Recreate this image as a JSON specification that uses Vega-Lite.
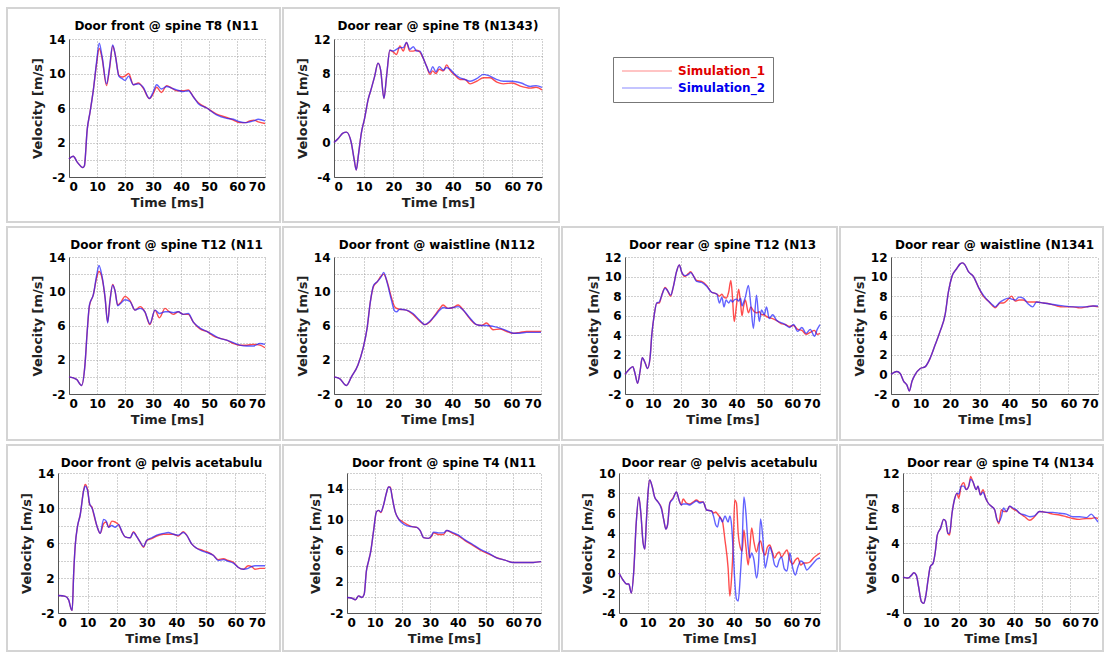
{
"$schema": "https://vega.github.io/schema/vega-lite/v6.json",
"background": "white",
"padding": {"left": 6, "top": 7, "right": 0, "bottom": 0},
"config": {
  "font": "DejaVu Sans",
  "view": {"stroke": "#d4d4d4", "strokeWidth": 2, "fill": "white"},
  "axis": {"labelFont": "DejaVu Sans", "labelFontSize": 12, "labelFontWeight": "bold", "labelColor": "#000", "titleFont": "DejaVu Sans", "titleFontSize": 13, "titleFontWeight": "bold", "titleColor": "#222", "domainColor": "#555", "gridColor": "#a0a0a0", "gridDash": [1, 2], "ticks": false, "labelPadding": 4, "titlePadding": 4, "labelOverlap": false},
  "title": {"font": "DejaVu Sans", "fontSize": 12, "fontWeight": "bold", "color": "#000"},
  "line": {"interpolate": "monotone", "strokeWidth": 1.4}
},
"datasets": {
"front_T8": [
{"t":0,"Simulation_1":0.1,"Simulation_2":0.1},{"t":1.5,"Simulation_1":0.4,"Simulation_2":0.4},{"t":3,"Simulation_1":-0.3,"Simulation_2":-0.3},{"t":5,"Simulation_1":-0.9,"Simulation_2":-0.9},{"t":5.5,"Simulation_1":-0.7,"Simulation_2":-0.7},{"t":6.5,"Simulation_1":3.5,"Simulation_2":3.5},{"t":7.5,"Simulation_1":5.5,"Simulation_2":5.5},{"t":8.7,"Simulation_1":8.1,"Simulation_2":8.1},{"t":9.8,"Simulation_1":11.0,"Simulation_2":11.2},{"t":10.8,"Simulation_1":12.9,"Simulation_2":13.5},{"t":11.8,"Simulation_1":11.8,"Simulation_2":12.0},{"t":13.4,"Simulation_1":8.6,"Simulation_2":8.8},{"t":14.5,"Simulation_1":10.6,"Simulation_2":10.8},{"t":15.6,"Simulation_1":13.2,"Simulation_2":13.3},{"t":16.5,"Simulation_1":12.2,"Simulation_2":12.2},{"t":17.8,"Simulation_1":9.8,"Simulation_2":9.7},{"t":19,"Simulation_1":9.6,"Simulation_2":9.4},{"t":20,"Simulation_1":9.7,"Simulation_2":9.2},{"t":21.3,"Simulation_1":10.0,"Simulation_2":9.7},{"t":23,"Simulation_1":8.7,"Simulation_2":8.7},{"t":24.8,"Simulation_1":8.9,"Simulation_2":8.8},{"t":26.5,"Simulation_1":8.3,"Simulation_2":8.4},{"t":28.7,"Simulation_1":7.1,"Simulation_2":7.1},{"t":30,"Simulation_1":7.6,"Simulation_2":7.8},{"t":31.3,"Simulation_1":8.4,"Simulation_2":8.7},{"t":33,"Simulation_1":7.8,"Simulation_2":8.2},{"t":34.9,"Simulation_1":8.6,"Simulation_2":8.5},{"t":36.7,"Simulation_1":8.3,"Simulation_2":8.3},{"t":38.5,"Simulation_1":8.0,"Simulation_2":8.1},{"t":40.8,"Simulation_1":8.0,"Simulation_2":7.9},{"t":42.6,"Simulation_1":8.1,"Simulation_2":8.0},{"t":44.4,"Simulation_1":7.3,"Simulation_2":7.3},{"t":46.2,"Simulation_1":6.6,"Simulation_2":6.5},{"t":49.2,"Simulation_1":6.0,"Simulation_2":6.0},{"t":52.7,"Simulation_1":5.3,"Simulation_2":5.2},{"t":56.3,"Simulation_1":4.9,"Simulation_2":4.8},{"t":58.7,"Simulation_1":4.6,"Simulation_2":4.7},{"t":61,"Simulation_1":4.3,"Simulation_2":4.4},{"t":63,"Simulation_1":4.3,"Simulation_2":4.3},{"t":64.6,"Simulation_1":4.5,"Simulation_2":4.4},{"t":66,"Simulation_1":4.6,"Simulation_2":4.5},{"t":67.6,"Simulation_1":4.4,"Simulation_2":4.7},{"t":70,"Simulation_1":4.2,"Simulation_2":4.5}
],
"rear_T8": [
{"t":0,"Simulation_1":0,"Simulation_2":0},{"t":1.5,"Simulation_1":0.5,"Simulation_2":0.5},{"t":3,"Simulation_1":1.1,"Simulation_2":1.1},{"t":4.2,"Simulation_1":1.2,"Simulation_2":1.2},{"t":5.8,"Simulation_1":0.0,"Simulation_2":0.0},{"t":6.8,"Simulation_1":-2.0,"Simulation_2":-2.0},{"t":7.5,"Simulation_1":-3.2,"Simulation_2":-3.2},{"t":8.2,"Simulation_1":-1.5,"Simulation_2":-1.5},{"t":9.2,"Simulation_1":1.1,"Simulation_2":1.1},{"t":10.3,"Simulation_1":2.8,"Simulation_2":2.8},{"t":11.5,"Simulation_1":5.0,"Simulation_2":5.0},{"t":12.6,"Simulation_1":6.3,"Simulation_2":6.3},{"t":13.7,"Simulation_1":7.7,"Simulation_2":7.7},{"t":14.8,"Simulation_1":9.2,"Simulation_2":9.2},{"t":15.7,"Simulation_1":8.4,"Simulation_2":8.4},{"t":16.8,"Simulation_1":5.1,"Simulation_2":5.1},{"t":17.7,"Simulation_1":7.7,"Simulation_2":7.7},{"t":18.8,"Simulation_1":10.7,"Simulation_2":10.7},{"t":19.9,"Simulation_1":10.5,"Simulation_2":10.6},{"t":21,"Simulation_1":10.2,"Simulation_2":10.8},{"t":22.2,"Simulation_1":11.2,"Simulation_2":11.0},{"t":23.3,"Simulation_1":10.6,"Simulation_2":11.0},{"t":24.4,"Simulation_1":11.6,"Simulation_2":11.6},{"t":25.5,"Simulation_1":10.6,"Simulation_2":10.8},{"t":26.7,"Simulation_1":10.6,"Simulation_2":11.1},{"t":27.8,"Simulation_1":10.7,"Simulation_2":10.6},{"t":28.9,"Simulation_1":10.5,"Simulation_2":10.6},{"t":30,"Simulation_1":9.8,"Simulation_2":9.8},{"t":31.2,"Simulation_1":8.8,"Simulation_2":8.8},{"t":32.3,"Simulation_1":7.9,"Simulation_2":8.1},{"t":33.2,"Simulation_1":8.3,"Simulation_2":8.8},{"t":34.3,"Simulation_1":8.0,"Simulation_2":8.2},{"t":35.4,"Simulation_1":8.5,"Simulation_2":8.8},{"t":36.8,"Simulation_1":8.3,"Simulation_2":8.4},{"t":37.9,"Simulation_1":9.0,"Simulation_2":8.7},{"t":39,"Simulation_1":8.4,"Simulation_2":8.5},{"t":40.7,"Simulation_1":7.8,"Simulation_2":7.9},{"t":42.4,"Simulation_1":7.3,"Simulation_2":7.5},{"t":44.1,"Simulation_1":7.3,"Simulation_2":7.3},{"t":45.8,"Simulation_1":6.8,"Simulation_2":7.1},{"t":48,"Simulation_1":7.1,"Simulation_2":7.4},{"t":50.3,"Simulation_1":7.5,"Simulation_2":7.9},{"t":52.5,"Simulation_1":7.5,"Simulation_2":7.7},{"t":54.8,"Simulation_1":7.0,"Simulation_2":7.3},{"t":57,"Simulation_1":6.8,"Simulation_2":7.1},{"t":60,"Simulation_1":6.9,"Simulation_2":7.1},{"t":63,"Simulation_1":6.5,"Simulation_2":6.9},{"t":66,"Simulation_1":6.3,"Simulation_2":6.5},{"t":68,"Simulation_1":6.4,"Simulation_2":6.6},{"t":70,"Simulation_1":6.1,"Simulation_2":6.4}
],
"front_T12": [
{"t":0,"Simulation_1":0.0,"Simulation_2":0.0},{"t":2.7,"Simulation_1":-0.3,"Simulation_2":-0.3},{"t":4.5,"Simulation_1":-1.0,"Simulation_2":-1.0},{"t":5.7,"Simulation_1":1.4,"Simulation_2":1.4},{"t":6.5,"Simulation_1":5.3,"Simulation_2":5.3},{"t":7.3,"Simulation_1":8.3,"Simulation_2":8.4},{"t":8.7,"Simulation_1":9.6,"Simulation_2":9.6},{"t":9.9,"Simulation_1":11.6,"Simulation_2":11.9},{"t":10.7,"Simulation_1":12.3,"Simulation_2":13.0},{"t":11.7,"Simulation_1":11.7,"Simulation_2":11.9},{"t":12.9,"Simulation_1":9.2,"Simulation_2":9.2},{"t":13.8,"Simulation_1":6.4,"Simulation_2":6.3},{"t":14.6,"Simulation_1":8.8,"Simulation_2":8.8},{"t":15.6,"Simulation_1":10.8,"Simulation_2":10.7},{"t":16.4,"Simulation_1":10.1,"Simulation_2":10.1},{"t":17.4,"Simulation_1":8.4,"Simulation_2":8.3},{"t":18.5,"Simulation_1":8.7,"Simulation_2":8.6},{"t":20,"Simulation_1":9.4,"Simulation_2":9.0},{"t":21.8,"Simulation_1":8.9,"Simulation_2":8.8},{"t":23.6,"Simulation_1":7.8,"Simulation_2":7.8},{"t":25.4,"Simulation_1":8.2,"Simulation_2":8.0},{"t":27.1,"Simulation_1":7.6,"Simulation_2":7.6},{"t":28.9,"Simulation_1":6.1,"Simulation_2":6.2},{"t":30.7,"Simulation_1":7.8,"Simulation_2":7.8},{"t":32.3,"Simulation_1":6.9,"Simulation_2":7.4},{"t":34.3,"Simulation_1":8.0,"Simulation_2":7.6},{"t":35.5,"Simulation_1":7.7,"Simulation_2":7.6},{"t":37.3,"Simulation_1":7.3,"Simulation_2":7.5},{"t":39,"Simulation_1":7.6,"Simulation_2":7.6},{"t":40.8,"Simulation_1":7.3,"Simulation_2":7.3},{"t":42.6,"Simulation_1":7.3,"Simulation_2":7.4},{"t":44.4,"Simulation_1":6.4,"Simulation_2":6.4},{"t":46.8,"Simulation_1":5.6,"Simulation_2":5.7},{"t":49.2,"Simulation_1":5.3,"Simulation_2":5.3},{"t":51.5,"Simulation_1":4.8,"Simulation_2":4.9},{"t":53.9,"Simulation_1":4.5,"Simulation_2":4.5},{"t":56.3,"Simulation_1":4.3,"Simulation_2":4.3},{"t":58.7,"Simulation_1":3.9,"Simulation_2":4.0},{"t":61,"Simulation_1":3.7,"Simulation_2":3.7},{"t":63.5,"Simulation_1":3.7,"Simulation_2":3.6},{"t":65.8,"Simulation_1":3.8,"Simulation_2":3.6},{"t":68.2,"Simulation_1":3.7,"Simulation_2":3.9},{"t":70,"Simulation_1":3.4,"Simulation_2":3.8}
],
"front_waist": [
{"t":0,"Simulation_1":0.0,"Simulation_2":0.0},{"t":1.9,"Simulation_1":-0.2,"Simulation_2":-0.2},{"t":4.2,"Simulation_1":-1.0,"Simulation_2":-1.0},{"t":5.9,"Simulation_1":0.0,"Simulation_2":0.0},{"t":8.1,"Simulation_1":1.4,"Simulation_2":1.4},{"t":9.8,"Simulation_1":3.3,"Simulation_2":3.3},{"t":11.2,"Simulation_1":5.7,"Simulation_2":5.7},{"t":12.3,"Simulation_1":8.8,"Simulation_2":8.8},{"t":13.4,"Simulation_1":10.6,"Simulation_2":10.7},{"t":14.6,"Simulation_1":11.1,"Simulation_2":11.1},{"t":16,"Simulation_1":11.8,"Simulation_2":11.7},{"t":16.8,"Simulation_1":12.0,"Simulation_2":12.2},{"t":17.9,"Simulation_1":11.2,"Simulation_2":11.1},{"t":19.4,"Simulation_1":9.3,"Simulation_2":9.0},{"t":20.5,"Simulation_1":8.2,"Simulation_2":7.7},{"t":21.2,"Simulation_1":8.0,"Simulation_2":7.6},{"t":22.2,"Simulation_1":7.9,"Simulation_2":7.9},{"t":24.5,"Simulation_1":7.8,"Simulation_2":7.8},{"t":26.7,"Simulation_1":7.3,"Simulation_2":7.4},{"t":29,"Simulation_1":6.5,"Simulation_2":6.6},{"t":30.7,"Simulation_1":6.1,"Simulation_2":6.1},{"t":32.4,"Simulation_1":6.4,"Simulation_2":6.5},{"t":34.1,"Simulation_1":7.2,"Simulation_2":7.1},{"t":35.8,"Simulation_1":8.0,"Simulation_2":7.8},{"t":36.9,"Simulation_1":8.4,"Simulation_2":8.1},{"t":38.6,"Simulation_1":8.0,"Simulation_2":8.0},{"t":40.3,"Simulation_1":8.1,"Simulation_2":8.1},{"t":42,"Simulation_1":8.4,"Simulation_2":8.2},{"t":43.7,"Simulation_1":7.8,"Simulation_2":7.8},{"t":45.9,"Simulation_1":6.8,"Simulation_2":6.9},{"t":48.2,"Simulation_1":6.1,"Simulation_2":6.1},{"t":49.9,"Simulation_1":6.0,"Simulation_2":6.0},{"t":51.6,"Simulation_1":6.3,"Simulation_2":6.0},{"t":53.8,"Simulation_1":5.5,"Simulation_2":5.9},{"t":56.1,"Simulation_1":5.6,"Simulation_2":5.7},{"t":58.4,"Simulation_1":5.3,"Simulation_2":5.4},{"t":60.6,"Simulation_1":5.1,"Simulation_2":5.1},{"t":62.9,"Simulation_1":5.2,"Simulation_2":5.1},{"t":65.1,"Simulation_1":5.3,"Simulation_2":5.2},{"t":67.4,"Simulation_1":5.3,"Simulation_2":5.2},{"t":70,"Simulation_1":5.3,"Simulation_2":5.2}
],
"rear_T12": [
{"t":0,"Simulation_1":0.0,"Simulation_2":0.0},{"t":1.8,"Simulation_1":0.6,"Simulation_2":0.6},{"t":2.8,"Simulation_1":0.8,"Simulation_2":0.8},{"t":3.6,"Simulation_1":0.1,"Simulation_2":0.1},{"t":4.5,"Simulation_1":-0.9,"Simulation_2":-0.9},{"t":5.4,"Simulation_1":0.3,"Simulation_2":0.3},{"t":6.2,"Simulation_1":1.7,"Simulation_2":1.7},{"t":7.2,"Simulation_1":1.2,"Simulation_2":1.2},{"t":8.1,"Simulation_1":0.6,"Simulation_2":0.6},{"t":9,"Simulation_1":1.7,"Simulation_2":1.7},{"t":9.6,"Simulation_1":4.0,"Simulation_2":4.0},{"t":10.5,"Simulation_1":6.1,"Simulation_2":6.1},{"t":11.4,"Simulation_1":7.3,"Simulation_2":7.3},{"t":12.3,"Simulation_1":7.3,"Simulation_2":7.4},{"t":13.2,"Simulation_1":8.1,"Simulation_2":8.1},{"t":14.4,"Simulation_1":8.9,"Simulation_2":8.8},{"t":15.2,"Simulation_1":8.6,"Simulation_2":8.6},{"t":16.4,"Simulation_1":8.0,"Simulation_2":8.1},{"t":17.3,"Simulation_1":8.9,"Simulation_2":8.9},{"t":18.5,"Simulation_1":10.5,"Simulation_2":10.5},{"t":19.5,"Simulation_1":11.2,"Simulation_2":11.2},{"t":20.3,"Simulation_1":10.5,"Simulation_2":10.5},{"t":21.5,"Simulation_1":10.0,"Simulation_2":10.1},{"t":22.7,"Simulation_1":10.3,"Simulation_2":10.2},{"t":23.6,"Simulation_1":10.5,"Simulation_2":10.4},{"t":24.5,"Simulation_1":10.1,"Simulation_2":10.1},{"t":25.7,"Simulation_1":9.6,"Simulation_2":9.5},{"t":27.5,"Simulation_1":9.5,"Simulation_2":9.4},{"t":29.3,"Simulation_1":9.1,"Simulation_2":9.0},{"t":31.1,"Simulation_1":8.4,"Simulation_2":8.4},{"t":32.2,"Simulation_1":8.3,"Simulation_2":8.3},{"t":33,"Simulation_1":8.2,"Simulation_2":8.2},{"t":33.9,"Simulation_1":8.0,"Simulation_2":7.3},{"t":34.8,"Simulation_1":8.2,"Simulation_2":7.9},{"t":35.5,"Simulation_1":7.9,"Simulation_2":6.9},{"t":36.3,"Simulation_1":7.8,"Simulation_2":7.6},{"t":37.2,"Simulation_1":8.4,"Simulation_2":7.3},{"t":38,"Simulation_1":9.6,"Simulation_2":7.6},{"t":38.6,"Simulation_1":7.8,"Simulation_2":7.4},{"t":39.2,"Simulation_1":5.4,"Simulation_2":7.6},{"t":40,"Simulation_1":7.0,"Simulation_2":7.7},{"t":40.8,"Simulation_1":8.7,"Simulation_2":7.5},{"t":41.5,"Simulation_1":7.2,"Simulation_2":7.8},{"t":42,"Simulation_1":6.0,"Simulation_2":7.0},{"t":42.6,"Simulation_1":7.0,"Simulation_2":7.4},{"t":43.2,"Simulation_1":7.6,"Simulation_2":7.9},{"t":44.3,"Simulation_1":6.3,"Simulation_2":9.1},{"t":45.2,"Simulation_1":6.9,"Simulation_2":7.0},{"t":46.1,"Simulation_1":6.5,"Simulation_2":4.7},{"t":47.2,"Simulation_1":6.3,"Simulation_2":8.1},{"t":48.2,"Simulation_1":6.4,"Simulation_2":5.4},{"t":49,"Simulation_1":6.1,"Simulation_2":6.6},{"t":50,"Simulation_1":6.1,"Simulation_2":6.1},{"t":50.8,"Simulation_1":5.9,"Simulation_2":6.9},{"t":51.8,"Simulation_1":5.8,"Simulation_2":5.7},{"t":53,"Simulation_1":5.7,"Simulation_2":6.1},{"t":54.5,"Simulation_1":5.5,"Simulation_2":5.5},{"t":56,"Simulation_1":5.2,"Simulation_2":5.3},{"t":57.5,"Simulation_1":5.1,"Simulation_2":5.1},{"t":59,"Simulation_1":4.9,"Simulation_2":4.8},{"t":60.5,"Simulation_1":5.0,"Simulation_2":5.1},{"t":62,"Simulation_1":4.6,"Simulation_2":4.4},{"t":63.5,"Simulation_1":4.5,"Simulation_2":4.8},{"t":65,"Simulation_1":4.1,"Simulation_2":4.2},{"t":66.5,"Simulation_1":4.3,"Simulation_2":4.6},{"t":68,"Simulation_1":4.5,"Simulation_2":3.9},{"t":69,"Simulation_1":4.1,"Simulation_2":4.6},{"t":70,"Simulation_1":4.2,"Simulation_2":5.1}
],
"rear_waist": [
{"t":0,"Simulation_1":0,"Simulation_2":0},{"t":2,"Simulation_1":0.3,"Simulation_2":0.3},{"t":3.1,"Simulation_1":0.1,"Simulation_2":0.1},{"t":4.3,"Simulation_1":-0.7,"Simulation_2":-0.7},{"t":5.4,"Simulation_1":-1.1,"Simulation_2":-1.1},{"t":6.2,"Simulation_1":-1.7,"Simulation_2":-1.7},{"t":7.1,"Simulation_1":-0.7,"Simulation_2":-0.7},{"t":8.2,"Simulation_1":0.0,"Simulation_2":0.0},{"t":9.9,"Simulation_1":0.6,"Simulation_2":0.6},{"t":11.6,"Simulation_1":0.8,"Simulation_2":0.8},{"t":13.3,"Simulation_1":1.7,"Simulation_2":1.7},{"t":14.9,"Simulation_1":3.0,"Simulation_2":3.0},{"t":16.6,"Simulation_1":4.4,"Simulation_2":4.4},{"t":18.3,"Simulation_1":6.1,"Simulation_2":6.1},{"t":19.4,"Simulation_1":8.4,"Simulation_2":8.4},{"t":20.6,"Simulation_1":10.0,"Simulation_2":10.0},{"t":22.2,"Simulation_1":10.8,"Simulation_2":10.8},{"t":23.4,"Simulation_1":11.3,"Simulation_2":11.3},{"t":24.2,"Simulation_1":11.4,"Simulation_2":11.4},{"t":25,"Simulation_1":11.2,"Simulation_2":11.2},{"t":26.2,"Simulation_1":10.5,"Simulation_2":10.5},{"t":27.9,"Simulation_1":10.0,"Simulation_2":10.0},{"t":29.6,"Simulation_1":8.9,"Simulation_2":8.9},{"t":31.2,"Simulation_1":8.0,"Simulation_2":8.1},{"t":32.9,"Simulation_1":7.5,"Simulation_2":7.5},{"t":34.4,"Simulation_1":7.0,"Simulation_2":7.1},{"t":35.2,"Simulation_1":6.8,"Simulation_2":6.9},{"t":36.9,"Simulation_1":7.3,"Simulation_2":7.4},{"t":38,"Simulation_1":7.3,"Simulation_2":7.6},{"t":39.7,"Simulation_1":7.7,"Simulation_2":7.8},{"t":40.8,"Simulation_1":8.0,"Simulation_2":7.7},{"t":42,"Simulation_1":7.5,"Simulation_2":7.6},{"t":43.3,"Simulation_1":7.6,"Simulation_2":7.9},{"t":44.7,"Simulation_1":7.6,"Simulation_2":7.8},{"t":46.4,"Simulation_1":7.4,"Simulation_2":7.2},{"t":47.9,"Simulation_1":7.4,"Simulation_2":6.9},{"t":49.2,"Simulation_1":7.4,"Simulation_2":7.4},{"t":51.5,"Simulation_1":7.3,"Simulation_2":7.3},{"t":53.7,"Simulation_1":7.2,"Simulation_2":7.2},{"t":56,"Simulation_1":7.0,"Simulation_2":7.1},{"t":58.2,"Simulation_1":6.9,"Simulation_2":7.0},{"t":61.6,"Simulation_1":6.9,"Simulation_2":6.9},{"t":63.8,"Simulation_1":6.8,"Simulation_2":6.9},{"t":66,"Simulation_1":6.9,"Simulation_2":6.9},{"t":68.3,"Simulation_1":7.0,"Simulation_2":7.0},{"t":70,"Simulation_1":6.9,"Simulation_2":7.0}
],
"front_pelvis": [
{"t":0,"Simulation_1":0.0,"Simulation_2":0.0},{"t":2.5,"Simulation_1":-0.1,"Simulation_2":-0.1},{"t":3.6,"Simulation_1":-0.5,"Simulation_2":-0.5},{"t":4.5,"Simulation_1":-1.6,"Simulation_2":-1.6},{"t":4.8,"Simulation_1":-1.7,"Simulation_2":-1.7},{"t":5.3,"Simulation_1":2.5,"Simulation_2":2.5},{"t":5.8,"Simulation_1":5.6,"Simulation_2":5.6},{"t":6.6,"Simulation_1":7.9,"Simulation_2":7.9},{"t":7.5,"Simulation_1":9.2,"Simulation_2":9.2},{"t":8.7,"Simulation_1":12.1,"Simulation_2":12.0},{"t":9.2,"Simulation_1":12.7,"Simulation_2":12.5},{"t":10,"Simulation_1":12.1,"Simulation_2":12.0},{"t":10.7,"Simulation_1":10.4,"Simulation_2":10.5},{"t":11.5,"Simulation_1":10.1,"Simulation_2":10.0},{"t":12,"Simulation_1":9.4,"Simulation_2":9.5},{"t":13.2,"Simulation_1":7.9,"Simulation_2":7.9},{"t":14.3,"Simulation_1":7.1,"Simulation_2":7.1},{"t":15.4,"Simulation_1":8.2,"Simulation_2":8.7},{"t":16.3,"Simulation_1":8.4,"Simulation_2":8.5},{"t":17.1,"Simulation_1":7.8,"Simulation_2":7.8},{"t":18.2,"Simulation_1":8.5,"Simulation_2":8.0},{"t":19.3,"Simulation_1":8.4,"Simulation_2":7.8},{"t":20.5,"Simulation_1":8.1,"Simulation_2":8.1},{"t":21.6,"Simulation_1":7.3,"Simulation_2":7.3},{"t":22.7,"Simulation_1":6.7,"Simulation_2":6.7},{"t":24.4,"Simulation_1":6.6,"Simulation_2":6.6},{"t":25.5,"Simulation_1":7.3,"Simulation_2":7.2},{"t":26.7,"Simulation_1":6.7,"Simulation_2":6.7},{"t":27.8,"Simulation_1":6.1,"Simulation_2":6.1},{"t":28.9,"Simulation_1":5.5,"Simulation_2":5.6},{"t":30,"Simulation_1":6.3,"Simulation_2":6.3},{"t":31.7,"Simulation_1":6.5,"Simulation_2":6.6},{"t":33.4,"Simulation_1":6.8,"Simulation_2":6.9},{"t":35.7,"Simulation_1":7.0,"Simulation_2":7.1},{"t":37.3,"Simulation_1":7.0,"Simulation_2":7.2},{"t":39,"Simulation_1":7.0,"Simulation_2":7.0},{"t":40.7,"Simulation_1":6.8,"Simulation_2":6.9},{"t":42.4,"Simulation_1":7.3,"Simulation_2":7.2},{"t":43.5,"Simulation_1":6.9,"Simulation_2":6.9},{"t":45.2,"Simulation_1":5.9,"Simulation_2":5.9},{"t":46.9,"Simulation_1":5.4,"Simulation_2":5.4},{"t":48.6,"Simulation_1":5.2,"Simulation_2":5.1},{"t":50.3,"Simulation_1":5.0,"Simulation_2":4.9},{"t":52.5,"Simulation_1":4.6,"Simulation_2":4.6},{"t":54.2,"Simulation_1":4.1,"Simulation_2":4.0},{"t":55.9,"Simulation_1":4.2,"Simulation_2":4.1},{"t":57.6,"Simulation_1":4.0,"Simulation_2":3.9},{"t":59.3,"Simulation_1":3.8,"Simulation_2":3.7},{"t":61,"Simulation_1":3.2,"Simulation_2":3.2},{"t":62.7,"Simulation_1":3.0,"Simulation_2":3.0},{"t":64.3,"Simulation_1":3.4,"Simulation_2":3.1},{"t":65.5,"Simulation_1":3.3,"Simulation_2":3.3},{"t":66.6,"Simulation_1":3.0,"Simulation_2":3.4},{"t":68.3,"Simulation_1":3.1,"Simulation_2":3.4},{"t":70,"Simulation_1":3.1,"Simulation_2":3.4}
],
"front_T4": [
{"t":0,"Simulation_1":0.0,"Simulation_2":0.0},{"t":1.8,"Simulation_1":-0.1,"Simulation_2":-0.1},{"t":3,"Simulation_1":-0.3,"Simulation_2":-0.3},{"t":4.2,"Simulation_1":0.2,"Simulation_2":0.2},{"t":5.4,"Simulation_1":0.0,"Simulation_2":0.0},{"t":6.2,"Simulation_1":0.4,"Simulation_2":0.4},{"t":7,"Simulation_1":3.4,"Simulation_2":3.4},{"t":7.8,"Simulation_1":4.7,"Simulation_2":4.7},{"t":8.6,"Simulation_1":6.0,"Simulation_2":6.0},{"t":9.6,"Simulation_1":8.6,"Simulation_2":8.6},{"t":10.6,"Simulation_1":11.0,"Simulation_2":11.0},{"t":11.4,"Simulation_1":11.2,"Simulation_2":11.2},{"t":12.2,"Simulation_1":10.9,"Simulation_2":11.0},{"t":13.2,"Simulation_1":11.9,"Simulation_2":11.9},{"t":14.2,"Simulation_1":13.4,"Simulation_2":13.4},{"t":15,"Simulation_1":14.2,"Simulation_2":14.2},{"t":15.6,"Simulation_1":14.2,"Simulation_2":14.1},{"t":16.4,"Simulation_1":12.7,"Simulation_2":12.7},{"t":17.4,"Simulation_1":11.0,"Simulation_2":11.0},{"t":18.6,"Simulation_1":10.1,"Simulation_2":10.1},{"t":19.8,"Simulation_1":9.8,"Simulation_2":9.6},{"t":21.6,"Simulation_1":9.4,"Simulation_2":9.2},{"t":23.4,"Simulation_1":9.1,"Simulation_2":9.1},{"t":25.2,"Simulation_1":9.0,"Simulation_2":9.0},{"t":26.4,"Simulation_1":8.6,"Simulation_2":8.6},{"t":27.6,"Simulation_1":7.7,"Simulation_2":7.7},{"t":29.4,"Simulation_1":7.6,"Simulation_2":7.6},{"t":30.6,"Simulation_1":7.9,"Simulation_2":8.0},{"t":31.2,"Simulation_1":8.3,"Simulation_2":8.4},{"t":33,"Simulation_1":8.1,"Simulation_2":8.3},{"t":34.8,"Simulation_1":8.1,"Simulation_2":8.3},{"t":36,"Simulation_1":8.6,"Simulation_2":8.6},{"t":37.8,"Simulation_1":8.3,"Simulation_2":8.4},{"t":40.2,"Simulation_1":7.9,"Simulation_2":8.0},{"t":42.6,"Simulation_1":7.3,"Simulation_2":7.4},{"t":45,"Simulation_1":6.8,"Simulation_2":6.9},{"t":48,"Simulation_1":6.1,"Simulation_2":6.2},{"t":51,"Simulation_1":5.6,"Simulation_2":5.7},{"t":54,"Simulation_1":5.1,"Simulation_2":5.1},{"t":57,"Simulation_1":4.8,"Simulation_2":4.8},{"t":60,"Simulation_1":4.5,"Simulation_2":4.5},{"t":63,"Simulation_1":4.5,"Simulation_2":4.5},{"t":67.2,"Simulation_1":4.5,"Simulation_2":4.5},{"t":70,"Simulation_1":4.6,"Simulation_2":4.6}
],
"rear_pelvis": [
{"t":0,"Simulation_1":0.0,"Simulation_2":0.0},{"t":1.4,"Simulation_1":-0.7,"Simulation_2":-0.7},{"t":2.6,"Simulation_1":-1.1,"Simulation_2":-1.1},{"t":3.4,"Simulation_1":-1.1,"Simulation_2":-1.1},{"t":4.3,"Simulation_1":-2.0,"Simulation_2":-2.0},{"t":5.1,"Simulation_1":0.0,"Simulation_2":0.0},{"t":6,"Simulation_1":5.0,"Simulation_2":5.0},{"t":6.9,"Simulation_1":7.6,"Simulation_2":7.6},{"t":7.6,"Simulation_1":6.0,"Simulation_2":6.0},{"t":8.4,"Simulation_1":3.0,"Simulation_2":3.0},{"t":9,"Simulation_1":2.4,"Simulation_2":2.4},{"t":9.5,"Simulation_1":5.0,"Simulation_2":5.0},{"t":10.1,"Simulation_1":8.0,"Simulation_2":8.0},{"t":10.7,"Simulation_1":9.3,"Simulation_2":9.3},{"t":11.6,"Simulation_1":8.6,"Simulation_2":8.6},{"t":12.4,"Simulation_1":7.6,"Simulation_2":7.6},{"t":13.6,"Simulation_1":7.1,"Simulation_2":7.1},{"t":14.8,"Simulation_1":6.5,"Simulation_2":6.4},{"t":15.6,"Simulation_1":5.3,"Simulation_2":5.3},{"t":16.3,"Simulation_1":4.4,"Simulation_2":4.4},{"t":16.9,"Simulation_1":4.8,"Simulation_2":4.8},{"t":17.7,"Simulation_1":7.0,"Simulation_2":7.0},{"t":18.8,"Simulation_1":7.5,"Simulation_2":7.4},{"t":20,"Simulation_1":8.1,"Simulation_2":8.1},{"t":20.9,"Simulation_1":7.3,"Simulation_2":7.3},{"t":21.7,"Simulation_1":6.8,"Simulation_2":6.8},{"t":22.3,"Simulation_1":7.4,"Simulation_2":6.9},{"t":23.5,"Simulation_1":7.0,"Simulation_2":6.9},{"t":24.7,"Simulation_1":6.9,"Simulation_2":6.8},{"t":25.8,"Simulation_1":7.1,"Simulation_2":7.0},{"t":27,"Simulation_1":7.3,"Simulation_2":7.2},{"t":28.1,"Simulation_1":7.1,"Simulation_2":7.0},{"t":29.3,"Simulation_1":7.1,"Simulation_2":7.1},{"t":30.5,"Simulation_1":6.3,"Simulation_2":6.3},{"t":32.2,"Simulation_1":6.2,"Simulation_2":6.2},{"t":33,"Simulation_1":6.0,"Simulation_2":5.6},{"t":33.7,"Simulation_1":6.1,"Simulation_2":4.8},{"t":34.3,"Simulation_1":5.9,"Simulation_2":4.6},{"t":35.1,"Simulation_1":5.6,"Simulation_2":5.6},{"t":36,"Simulation_1":5.2,"Simulation_2":5.1},{"t":36.9,"Simulation_1":3.3,"Simulation_2":5.7},{"t":38,"Simulation_1":0.5,"Simulation_2":5.1},{"t":38.6,"Simulation_1":-2.3,"Simulation_2":5.7},{"t":39.2,"Simulation_1":-0.5,"Simulation_2":4.8},{"t":39.8,"Simulation_1":3.0,"Simulation_2":2.0},{"t":40.3,"Simulation_1":7.3,"Simulation_2":-0.7},{"t":40.9,"Simulation_1":7.0,"Simulation_2":-2.6},{"t":41.5,"Simulation_1":4.0,"Simulation_2":-2.8},{"t":42.2,"Simulation_1":2.6,"Simulation_2":-0.5},{"t":42.9,"Simulation_1":2.2,"Simulation_2":3.0},{"t":43.5,"Simulation_1":4.3,"Simulation_2":7.6},{"t":44.2,"Simulation_1":2.6,"Simulation_2":6.0},{"t":45,"Simulation_1":0.8,"Simulation_2":2.6},{"t":45.6,"Simulation_1":2.6,"Simulation_2":1.5},{"t":46.2,"Simulation_1":4.5,"Simulation_2":2.0},{"t":47,"Simulation_1":3.1,"Simulation_2":1.3},{"t":47.9,"Simulation_1":2.1,"Simulation_2":-0.5},{"t":48.6,"Simulation_1":2.9,"Simulation_2":1.0},{"t":49.3,"Simulation_1":3.2,"Simulation_2":5.4},{"t":50.1,"Simulation_1":2.2,"Simulation_2":3.5},{"t":50.9,"Simulation_1":1.8,"Simulation_2":0.5},{"t":51.7,"Simulation_1":2.6,"Simulation_2":1.5},{"t":52.5,"Simulation_1":2.8,"Simulation_2":2.6},{"t":53.3,"Simulation_1":2.2,"Simulation_2":2.0},{"t":54.2,"Simulation_1":1.5,"Simulation_2":0.8},{"t":55,"Simulation_1":1.9,"Simulation_2":0.6},{"t":55.8,"Simulation_1":2.1,"Simulation_2":1.3},{"t":56.6,"Simulation_1":1.6,"Simulation_2":1.6},{"t":57.6,"Simulation_1":2.0,"Simulation_2":0.4},{"t":58.5,"Simulation_1":2.3,"Simulation_2":0.2},{"t":59.5,"Simulation_1":1.3,"Simulation_2":2.0},{"t":60.5,"Simulation_1":0.9,"Simulation_2":0.5},{"t":61.4,"Simulation_1":1.3,"Simulation_2":-0.2},{"t":62.3,"Simulation_1":1.5,"Simulation_2":0.6},{"t":63.3,"Simulation_1":0.8,"Simulation_2":1.2},{"t":64.3,"Simulation_1":1.0,"Simulation_2":1.0},{"t":65.4,"Simulation_1":1.0,"Simulation_2":0.3},{"t":66.5,"Simulation_1":1.1,"Simulation_2":0.6},{"t":67.7,"Simulation_1":1.5,"Simulation_2":1.0},{"t":69,"Simulation_1":1.8,"Simulation_2":1.4},{"t":70,"Simulation_1":2.0,"Simulation_2":1.5}
],
"rear_T4": [
{"t":0,"Simulation_1":0.1,"Simulation_2":0.1},{"t":1.8,"Simulation_1":0.0,"Simulation_2":0.0},{"t":3,"Simulation_1":0.3,"Simulation_2":0.3},{"t":3.9,"Simulation_1":0.6,"Simulation_2":0.6},{"t":4.8,"Simulation_1":0.3,"Simulation_2":0.3},{"t":5.6,"Simulation_1":-1.0,"Simulation_2":-1.0},{"t":6.6,"Simulation_1":-2.7,"Simulation_2":-2.7},{"t":7.4,"Simulation_1":-2.9,"Simulation_2":-2.9},{"t":8.1,"Simulation_1":-2.2,"Simulation_2":-2.2},{"t":9,"Simulation_1":-0.2,"Simulation_2":-0.2},{"t":9.8,"Simulation_1":1.3,"Simulation_2":1.3},{"t":10.8,"Simulation_1":1.7,"Simulation_2":1.7},{"t":11.6,"Simulation_1":3.0,"Simulation_2":3.0},{"t":12.3,"Simulation_1":4.9,"Simulation_2":4.9},{"t":13.5,"Simulation_1":5.7,"Simulation_2":5.7},{"t":14.6,"Simulation_1":6.7,"Simulation_2":6.7},{"t":15.3,"Simulation_1":6.5,"Simulation_2":6.5},{"t":16.1,"Simulation_1":5.1,"Simulation_2":5.1},{"t":16.7,"Simulation_1":4.9,"Simulation_2":5.1},{"t":17.6,"Simulation_1":7.4,"Simulation_2":7.4},{"t":18.5,"Simulation_1":9.0,"Simulation_2":9.0},{"t":19.4,"Simulation_1":9.7,"Simulation_2":9.7},{"t":20,"Simulation_1":9.1,"Simulation_2":9.6},{"t":20.9,"Simulation_1":10.5,"Simulation_2":10.5},{"t":21.8,"Simulation_1":10.9,"Simulation_2":10.5},{"t":22.7,"Simulation_1":10.1,"Simulation_2":10.1},{"t":23.6,"Simulation_1":10.5,"Simulation_2":10.5},{"t":24.3,"Simulation_1":11.6,"Simulation_2":11.3},{"t":25.1,"Simulation_1":11.0,"Simulation_2":11.0},{"t":26.3,"Simulation_1":10.1,"Simulation_2":10.1},{"t":26.9,"Simulation_1":10.5,"Simulation_2":10.5},{"t":27.8,"Simulation_1":9.5,"Simulation_2":9.5},{"t":28.7,"Simulation_1":10.1,"Simulation_2":9.8},{"t":29.7,"Simulation_1":9.1,"Simulation_2":9.1},{"t":30.5,"Simulation_1":8.6,"Simulation_2":8.6},{"t":31.7,"Simulation_1":8.2,"Simulation_2":8.2},{"t":32.9,"Simulation_1":7.8,"Simulation_2":7.8},{"t":33.7,"Simulation_1":6.7,"Simulation_2":6.7},{"t":34.4,"Simulation_1":6.2,"Simulation_2":6.4},{"t":35.3,"Simulation_1":7.8,"Simulation_2":7.0},{"t":36.1,"Simulation_1":7.6,"Simulation_2":8.0},{"t":37.1,"Simulation_1":7.6,"Simulation_2":7.6},{"t":38.3,"Simulation_1":8.2,"Simulation_2":8.2},{"t":39.5,"Simulation_1":7.9,"Simulation_2":8.0},{"t":40.7,"Simulation_1":7.7,"Simulation_2":7.8},{"t":41.9,"Simulation_1":7.4,"Simulation_2":7.4},{"t":43.7,"Simulation_1":7.0,"Simulation_2":7.2},{"t":45.5,"Simulation_1":6.6,"Simulation_2":7.0},{"t":47.2,"Simulation_1":7.0,"Simulation_2":7.1},{"t":49,"Simulation_1":7.6,"Simulation_2":7.6},{"t":51.4,"Simulation_1":7.5,"Simulation_2":7.5},{"t":53.8,"Simulation_1":7.3,"Simulation_2":7.5},{"t":56.2,"Simulation_1":7.2,"Simulation_2":7.4},{"t":58.6,"Simulation_1":7.0,"Simulation_2":7.3},{"t":61,"Simulation_1":6.8,"Simulation_2":7.0},{"t":63.4,"Simulation_1":6.7,"Simulation_2":7.0},{"t":65.8,"Simulation_1":6.8,"Simulation_2":6.9},{"t":67.6,"Simulation_1":6.8,"Simulation_2":7.3},{"t":68.8,"Simulation_1":6.9,"Simulation_2":6.9},{"t":70,"Simulation_1":6.8,"Simulation_2":6.4}
]
},
"columns": 4,
"spacing": {"row": 3, "column": 1},
"resolve": {"scale": {"color": "independent"}, "legend": {"color": "independent"}},
"concat": [
{
 "width": 273, "height": 214,
 "data": {"name": "front_T8"},
 "transform": [{"fold": ["Simulation_1", "Simulation_2"], "as": ["sim", "v"]}],
 "title": {"text": "Door front @ spine T8 (N11", "dx": 23, "offset": -25, "frame": "group"},
 "encoding": {
  "y": {"field": "v", "type": "quantitative", "scale": {"domain": [-2, 14], "range": [169, 31], "nice": false}, "axis": {"offset": -62, "title": "Velocity [m/s]", "values": [-2,0,2,4,6,8,10,12,14], "labelExpr": "(datum.value + 2) % 4 == 0 ? '' + datum.value : ''"}},
  "color": {"field": "sim", "type": "nominal", "scale": {"domain": ["Simulation_1", "Simulation_2"], "range": ["#ff2020", "#2020ff"]}, "legend": null}
 },
 "layer": [
  {"transform": [{"filter": "datum.sim == 'Simulation_1'"}], "mark": {"type": "line", "opacity": 0.8},
   "encoding": {"x": {"field": "t", "type": "quantitative", "scale": {"domain": [0, 70], "range": [62, 258], "nice": false}, "axis": {"offset": -45, "title": "Time [ms]", "values": [0,10,20,30,40,50,60,70], "grid": false}}}},
  {"transform": [{"filter": "datum.sim == 'Simulation_2'"}], "mark": {"type": "line", "opacity": 0.7},
   "encoding": {"x": {"field": "t", "type": "quantitative", "scale": {"domain": [0, 70], "range": [62, 258], "nice": false}, "axis": {"orient": "top", "values": [0,10,20,30,40,50,60,70], "grid": true, "labels": false, "domain": false, "ticks": false, "title": null}}}}
 ],
 "resolve": {"axis": {"x": "independent"}}
},
{
 "width": 276, "height": 214,
 "data": {"name": "rear_T8"},
 "transform": [{"fold": ["Simulation_1", "Simulation_2"], "as": ["sim", "v"]}],
 "title": {"text": "Door rear @ spine T8 (N1343)", "dx": 17, "offset": -25, "frame": "group"},
 "encoding": {
  "y": {"field": "v", "type": "quantitative", "scale": {"domain": [-4, 12], "range": [169, 31], "nice": false}, "axis": {"offset": -51, "title": "Velocity [m/s]", "values": [-4,-2,0,2,4,6,8,10,12], "labelExpr": "datum.value % 4 == 0 ? '' + datum.value : ''"}},
  "color": {"field": "sim", "type": "nominal", "scale": {"domain": ["Simulation_1", "Simulation_2"], "range": ["#ff2020", "#2020ff"]}, "legend": null}
 },
 "layer": [
  {"transform": [{"filter": "datum.sim == 'Simulation_1'"}], "mark": {"type": "line", "opacity": 0.8},
   "encoding": {"x": {"field": "t", "type": "quantitative", "scale": {"domain": [0, 70], "range": [51, 259], "nice": false}, "axis": {"offset": -45, "title": "Time [ms]", "values": [0,10,20,30,40,50,60,70], "grid": false}}}},
  {"transform": [{"filter": "datum.sim == 'Simulation_2'"}], "mark": {"type": "line", "opacity": 0.7},
   "encoding": {"x": {"field": "t", "type": "quantitative", "scale": {"domain": [0, 70], "range": [51, 259], "nice": false}, "axis": {"orient": "top", "values": [0,10,20,30,40,50,60,70], "grid": true, "labels": false, "domain": false, "ticks": false, "title": null}}}}
 ],
 "resolve": {"axis": {"x": "independent"}}
},
{
 "width": 275, "height": 214,
 "data": {"name": "front_T8"},
 "transform": [{"fold": ["Simulation_1", "Simulation_2"], "as": ["sim", "v"]}, {"filter": "false"}],
 "mark": {"type": "line"},
 "encoding": {
  "color": {"field": "sim", "type": "nominal", "scale": {"domain": ["Simulation_1", "Simulation_2"], "range": ["#ff2020", "#2020ff"]},
   "legend": {"orient": "none", "legendX": 51, "legendY": 49, "title": null, "symbolType": "M-1,0H9", "symbolSize": 100, "symbolStrokeWidth": 2, "symbolOpacity": 0.35, "labelFont": "DejaVu Sans", "labelFontSize": 12, "labelFontWeight": "bold", "labelOffset": 45, "strokeColor": "#777", "padding": 8, "rowPadding": 5, "labelColor": {"expr": "datum.value == 'Simulation_1' ? '#e00000' : '#0000ee'"}}}
 }
},
{
 "width": 263, "height": 214,
 "data": {"values": []},
 "mark": {"type": "point"},
 "encoding": {}
},
{
 "width": 273, "height": 213,
 "data": {"name": "front_T12"},
 "transform": [{"fold": ["Simulation_1", "Simulation_2"], "as": ["sim", "v"]}],
 "title": {"text": "Door front @ spine T12 (N11", "dx": 23, "offset": -25, "frame": "group"},
 "encoding": {
  "y": {"field": "v", "type": "quantitative", "scale": {"domain": [-2, 14], "range": [167, 30], "nice": false}, "axis": {"offset": -62, "title": "Velocity [m/s]", "values": [-2,0,2,4,6,8,10,12,14], "labelExpr": "(datum.value + 2) % 4 == 0 ? '' + datum.value : ''"}},
  "color": {"field": "sim", "type": "nominal", "scale": {"domain": ["Simulation_1", "Simulation_2"], "range": ["#ff2020", "#2020ff"]}, "legend": null}
 },
 "layer": [
  {"transform": [{"filter": "datum.sim == 'Simulation_1'"}], "mark": {"type": "line", "opacity": 0.8},
   "encoding": {"x": {"field": "t", "type": "quantitative", "scale": {"domain": [0, 70], "range": [62, 258], "nice": false}, "axis": {"offset": -46, "title": "Time [ms]", "values": [0,10,20,30,40,50,60,70], "grid": false}}}},
  {"transform": [{"filter": "datum.sim == 'Simulation_2'"}], "mark": {"type": "line", "opacity": 0.7},
   "encoding": {"x": {"field": "t", "type": "quantitative", "scale": {"domain": [0, 70], "range": [62, 258], "nice": false}, "axis": {"orient": "top", "values": [0,10,20,30,40,50,60,70], "grid": true, "labels": false, "domain": false, "ticks": false, "title": null}}}}
 ],
 "resolve": {"axis": {"x": "independent"}}
},
{
 "width": 276, "height": 213,
 "data": {"name": "front_waist"},
 "transform": [{"fold": ["Simulation_1", "Simulation_2"], "as": ["sim", "v"]}],
 "title": {"text": "Door front @ waistline (N112", "dx": 16, "offset": -25, "frame": "group"},
 "encoding": {
  "y": {"field": "v", "type": "quantitative", "scale": {"domain": [-2, 14], "range": [167, 30], "nice": false}, "axis": {"offset": -51, "title": "Velocity [m/s]", "values": [-2,0,2,4,6,8,10,12,14], "labelExpr": "(datum.value + 2) % 4 == 0 ? '' + datum.value : ''"}},
  "color": {"field": "sim", "type": "nominal", "scale": {"domain": ["Simulation_1", "Simulation_2"], "range": ["#ff2020", "#2020ff"]}, "legend": null}
 },
 "layer": [
  {"transform": [{"filter": "datum.sim == 'Simulation_1'"}], "mark": {"type": "line", "opacity": 0.8},
   "encoding": {"x": {"field": "t", "type": "quantitative", "scale": {"domain": [0, 70], "range": [51, 258], "nice": false}, "axis": {"offset": -46, "title": "Time [ms]", "values": [0,10,20,30,40,50,60,70], "grid": false}}}},
  {"transform": [{"filter": "datum.sim == 'Simulation_2'"}], "mark": {"type": "line", "opacity": 0.7},
   "encoding": {"x": {"field": "t", "type": "quantitative", "scale": {"domain": [0, 70], "range": [51, 258], "nice": false}, "axis": {"orient": "top", "values": [0,10,20,30,40,50,60,70], "grid": true, "labels": false, "domain": false, "ticks": false, "title": null}}}}
 ],
 "resolve": {"axis": {"x": "independent"}}
},
{
 "width": 275, "height": 213,
 "data": {"name": "rear_T12"},
 "transform": [{"fold": ["Simulation_1", "Simulation_2"], "as": ["sim", "v"]}],
 "title": {"text": "Door rear @ spine T12 (N13", "dx": 23, "offset": -25, "frame": "group"},
 "encoding": {
  "y": {"field": "v", "type": "quantitative", "scale": {"domain": [-2, 12], "range": [167, 30], "nice": false}, "axis": {"offset": -63, "title": "Velocity [m/s]", "values": [-2,0,2,4,6,8,10,12], "labelExpr": "'' + datum.value"}},
  "color": {"field": "sim", "type": "nominal", "scale": {"domain": ["Simulation_1", "Simulation_2"], "range": ["#ff2020", "#2020ff"]}, "legend": null}
 },
 "layer": [
  {"transform": [{"filter": "datum.sim == 'Simulation_1'"}], "mark": {"type": "line", "opacity": 0.8},
   "encoding": {"x": {"field": "t", "type": "quantitative", "scale": {"domain": [0, 70], "range": [63, 258], "nice": false}, "axis": {"offset": -46, "title": "Time [ms]", "values": [0,10,20,30,40,50,60,70], "grid": false}}}},
  {"transform": [{"filter": "datum.sim == 'Simulation_2'"}], "mark": {"type": "line", "opacity": 0.7},
   "encoding": {"x": {"field": "t", "type": "quantitative", "scale": {"domain": [0, 70], "range": [63, 258], "nice": false}, "axis": {"orient": "top", "values": [0,10,20,30,40,50,60,70], "grid": true, "labels": false, "domain": false, "ticks": false, "title": null}}}}
 ],
 "resolve": {"axis": {"x": "independent"}}
},
{
 "width": 263, "height": 213,
 "data": {"name": "rear_waist"},
 "transform": [{"fold": ["Simulation_1", "Simulation_2"], "as": ["sim", "v"]}],
 "title": {"text": "Door rear @ waistline (N1341", "dx": 23, "offset": -25, "frame": "group"},
 "encoding": {
  "y": {"field": "v", "type": "quantitative", "scale": {"domain": [-2, 12], "range": [167, 30], "nice": false}, "axis": {"offset": -51, "title": "Velocity [m/s]", "values": [-2,0,2,4,6,8,10,12], "labelExpr": "'' + datum.value"}},
  "color": {"field": "sim", "type": "nominal", "scale": {"domain": ["Simulation_1", "Simulation_2"], "range": ["#ff2020", "#2020ff"]}, "legend": null}
 },
 "layer": [
  {"transform": [{"filter": "datum.sim == 'Simulation_1'"}], "mark": {"type": "line", "opacity": 0.8},
   "encoding": {"x": {"field": "t", "type": "quantitative", "scale": {"domain": [0, 70], "range": [51, 258], "nice": false}, "axis": {"offset": -46, "title": "Time [ms]", "values": [0,10,20,30,40,50,60,70], "grid": false}}}},
  {"transform": [{"filter": "datum.sim == 'Simulation_2'"}], "mark": {"type": "line", "opacity": 0.7},
   "encoding": {"x": {"field": "t", "type": "quantitative", "scale": {"domain": [0, 70], "range": [51, 258], "nice": false}, "axis": {"orient": "top", "values": [0,10,20,30,40,50,60,70], "grid": true, "labels": false, "domain": false, "ticks": false, "title": null}}}}
 ],
 "resolve": {"axis": {"x": "independent"}}
},
{
 "width": 273, "height": 206,
 "data": {"name": "front_pelvis"},
 "transform": [{"fold": ["Simulation_1", "Simulation_2"], "as": ["sim", "v"]}],
 "title": {"text": "Door front @ pelvis acetabulu", "dx": 18, "offset": -25, "frame": "group"},
 "encoding": {
  "y": {"field": "v", "type": "quantitative", "scale": {"domain": [-2, 14], "range": [168, 28], "nice": false}, "axis": {"offset": -51, "title": "Velocity [m/s]", "values": [-2,0,2,4,6,8,10,12,14], "labelExpr": "(datum.value + 2) % 4 == 0 ? '' + datum.value : ''"}},
  "color": {"field": "sim", "type": "nominal", "scale": {"domain": ["Simulation_1", "Simulation_2"], "range": ["#ff2020", "#2020ff"]}, "legend": null}
 },
 "layer": [
  {"transform": [{"filter": "datum.sim == 'Simulation_1'"}], "mark": {"type": "line", "opacity": 0.8},
   "encoding": {"x": {"field": "t", "type": "quantitative", "scale": {"domain": [0, 70], "range": [51, 258], "nice": false}, "axis": {"offset": -38, "title": "Time [ms]", "values": [0,10,20,30,40,50,60,70], "grid": false}}}},
  {"transform": [{"filter": "datum.sim == 'Simulation_2'"}], "mark": {"type": "line", "opacity": 0.7},
   "encoding": {"x": {"field": "t", "type": "quantitative", "scale": {"domain": [0, 70], "range": [51, 258], "nice": false}, "axis": {"orient": "top", "values": [0,10,20,30,40,50,60,70], "grid": true, "labels": false, "domain": false, "ticks": false, "title": null}}}}
 ],
 "resolve": {"axis": {"x": "independent"}}
},
{
 "width": 276, "height": 206,
 "data": {"name": "front_T4"},
 "transform": [{"fold": ["Simulation_1", "Simulation_2"], "as": ["sim", "v"]}],
 "title": {"text": "Door front @ spine T4 (N11", "dx": 23, "offset": -25, "frame": "group"},
 "encoding": {
  "y": {"field": "v", "type": "quantitative", "scale": {"domain": [-2, 16], "range": [168, 28], "nice": false}, "axis": {"offset": -64, "title": "Velocity [m/s]", "values": [-2,0,2,4,6,8,10,12,14,16], "labelExpr": "(datum.value + 2) % 4 == 0 ? '' + datum.value : ''"}},
  "color": {"field": "sim", "type": "nominal", "scale": {"domain": ["Simulation_1", "Simulation_2"], "range": ["#ff2020", "#2020ff"]}, "legend": null}
 },
 "layer": [
  {"transform": [{"filter": "datum.sim == 'Simulation_1'"}], "mark": {"type": "line", "opacity": 0.8},
   "encoding": {"x": {"field": "t", "type": "quantitative", "scale": {"domain": [0, 70], "range": [64, 258], "nice": false}, "axis": {"offset": -38, "title": "Time [ms]", "values": [0,10,20,30,40,50,60,70], "grid": false}}}},
  {"transform": [{"filter": "datum.sim == 'Simulation_2'"}], "mark": {"type": "line", "opacity": 0.7},
   "encoding": {"x": {"field": "t", "type": "quantitative", "scale": {"domain": [0, 70], "range": [64, 258], "nice": false}, "axis": {"orient": "top", "values": [0,10,20,30,40,50,60,70], "grid": true, "labels": false, "domain": false, "ticks": false, "title": null}}}}
 ],
 "resolve": {"axis": {"x": "independent"}}
},
{
 "width": 275, "height": 206,
 "data": {"name": "rear_pelvis"},
 "transform": [{"fold": ["Simulation_1", "Simulation_2"], "as": ["sim", "v"]}],
 "title": {"text": "Door rear @ pelvis acetabulu", "dx": 20, "offset": -25, "frame": "group"},
 "encoding": {
  "y": {"field": "v", "type": "quantitative", "scale": {"domain": [-4, 10], "range": [168, 28], "nice": false}, "axis": {"offset": -57, "title": "Velocity [m/s]", "values": [-4,-2,0,2,4,6,8,10], "labelExpr": "'' + datum.value"}},
  "color": {"field": "sim", "type": "nominal", "scale": {"domain": ["Simulation_1", "Simulation_2"], "range": ["#ff2020", "#2020ff"]}, "legend": null}
 },
 "layer": [
  {"transform": [{"filter": "datum.sim == 'Simulation_1'"}], "mark": {"type": "line", "opacity": 0.8},
   "encoding": {"x": {"field": "t", "type": "quantitative", "scale": {"domain": [0, 70], "range": [57, 258], "nice": false}, "axis": {"offset": -38, "title": "Time [ms]", "values": [0,10,20,30,40,50,60,70], "grid": false}}}},
  {"transform": [{"filter": "datum.sim == 'Simulation_2'"}], "mark": {"type": "line", "opacity": 0.7},
   "encoding": {"x": {"field": "t", "type": "quantitative", "scale": {"domain": [0, 70], "range": [57, 258], "nice": false}, "axis": {"orient": "top", "values": [0,10,20,30,40,50,60,70], "grid": true, "labels": false, "domain": false, "ticks": false, "title": null}}}}
 ],
 "resolve": {"axis": {"x": "independent"}}
},
{
 "width": 263, "height": 206,
 "data": {"name": "rear_T4"},
 "transform": [{"fold": ["Simulation_1", "Simulation_2"], "as": ["sim", "v"]}],
 "title": {"text": "Door rear @ spine T4 (N134", "dx": 29, "offset": -25, "frame": "group"},
 "encoding": {
  "y": {"field": "v", "type": "quantitative", "scale": {"domain": [-4, 12], "range": [168, 28], "nice": false}, "axis": {"offset": -63, "title": "Velocity [m/s]", "values": [-4,-2,0,2,4,6,8,10,12], "labelExpr": "datum.value % 4 == 0 ? '' + datum.value : ''"}},
  "color": {"field": "sim", "type": "nominal", "scale": {"domain": ["Simulation_1", "Simulation_2"], "range": ["#ff2020", "#2020ff"]}, "legend": null}
 },
 "layer": [
  {"transform": [{"filter": "datum.sim == 'Simulation_1'"}], "mark": {"type": "line", "opacity": 0.8},
   "encoding": {"x": {"field": "t", "type": "quantitative", "scale": {"domain": [0, 70], "range": [63, 258], "nice": false}, "axis": {"offset": -38, "title": "Time [ms]", "values": [0,10,20,30,40,50,60,70], "grid": false}}}},
  {"transform": [{"filter": "datum.sim == 'Simulation_2'"}], "mark": {"type": "line", "opacity": 0.7},
   "encoding": {"x": {"field": "t", "type": "quantitative", "scale": {"domain": [0, 70], "range": [63, 258], "nice": false}, "axis": {"orient": "top", "values": [0,10,20,30,40,50,60,70], "grid": true, "labels": false, "domain": false, "ticks": false, "title": null}}}}
 ],
 "resolve": {"axis": {"x": "independent"}}
}
]
}
